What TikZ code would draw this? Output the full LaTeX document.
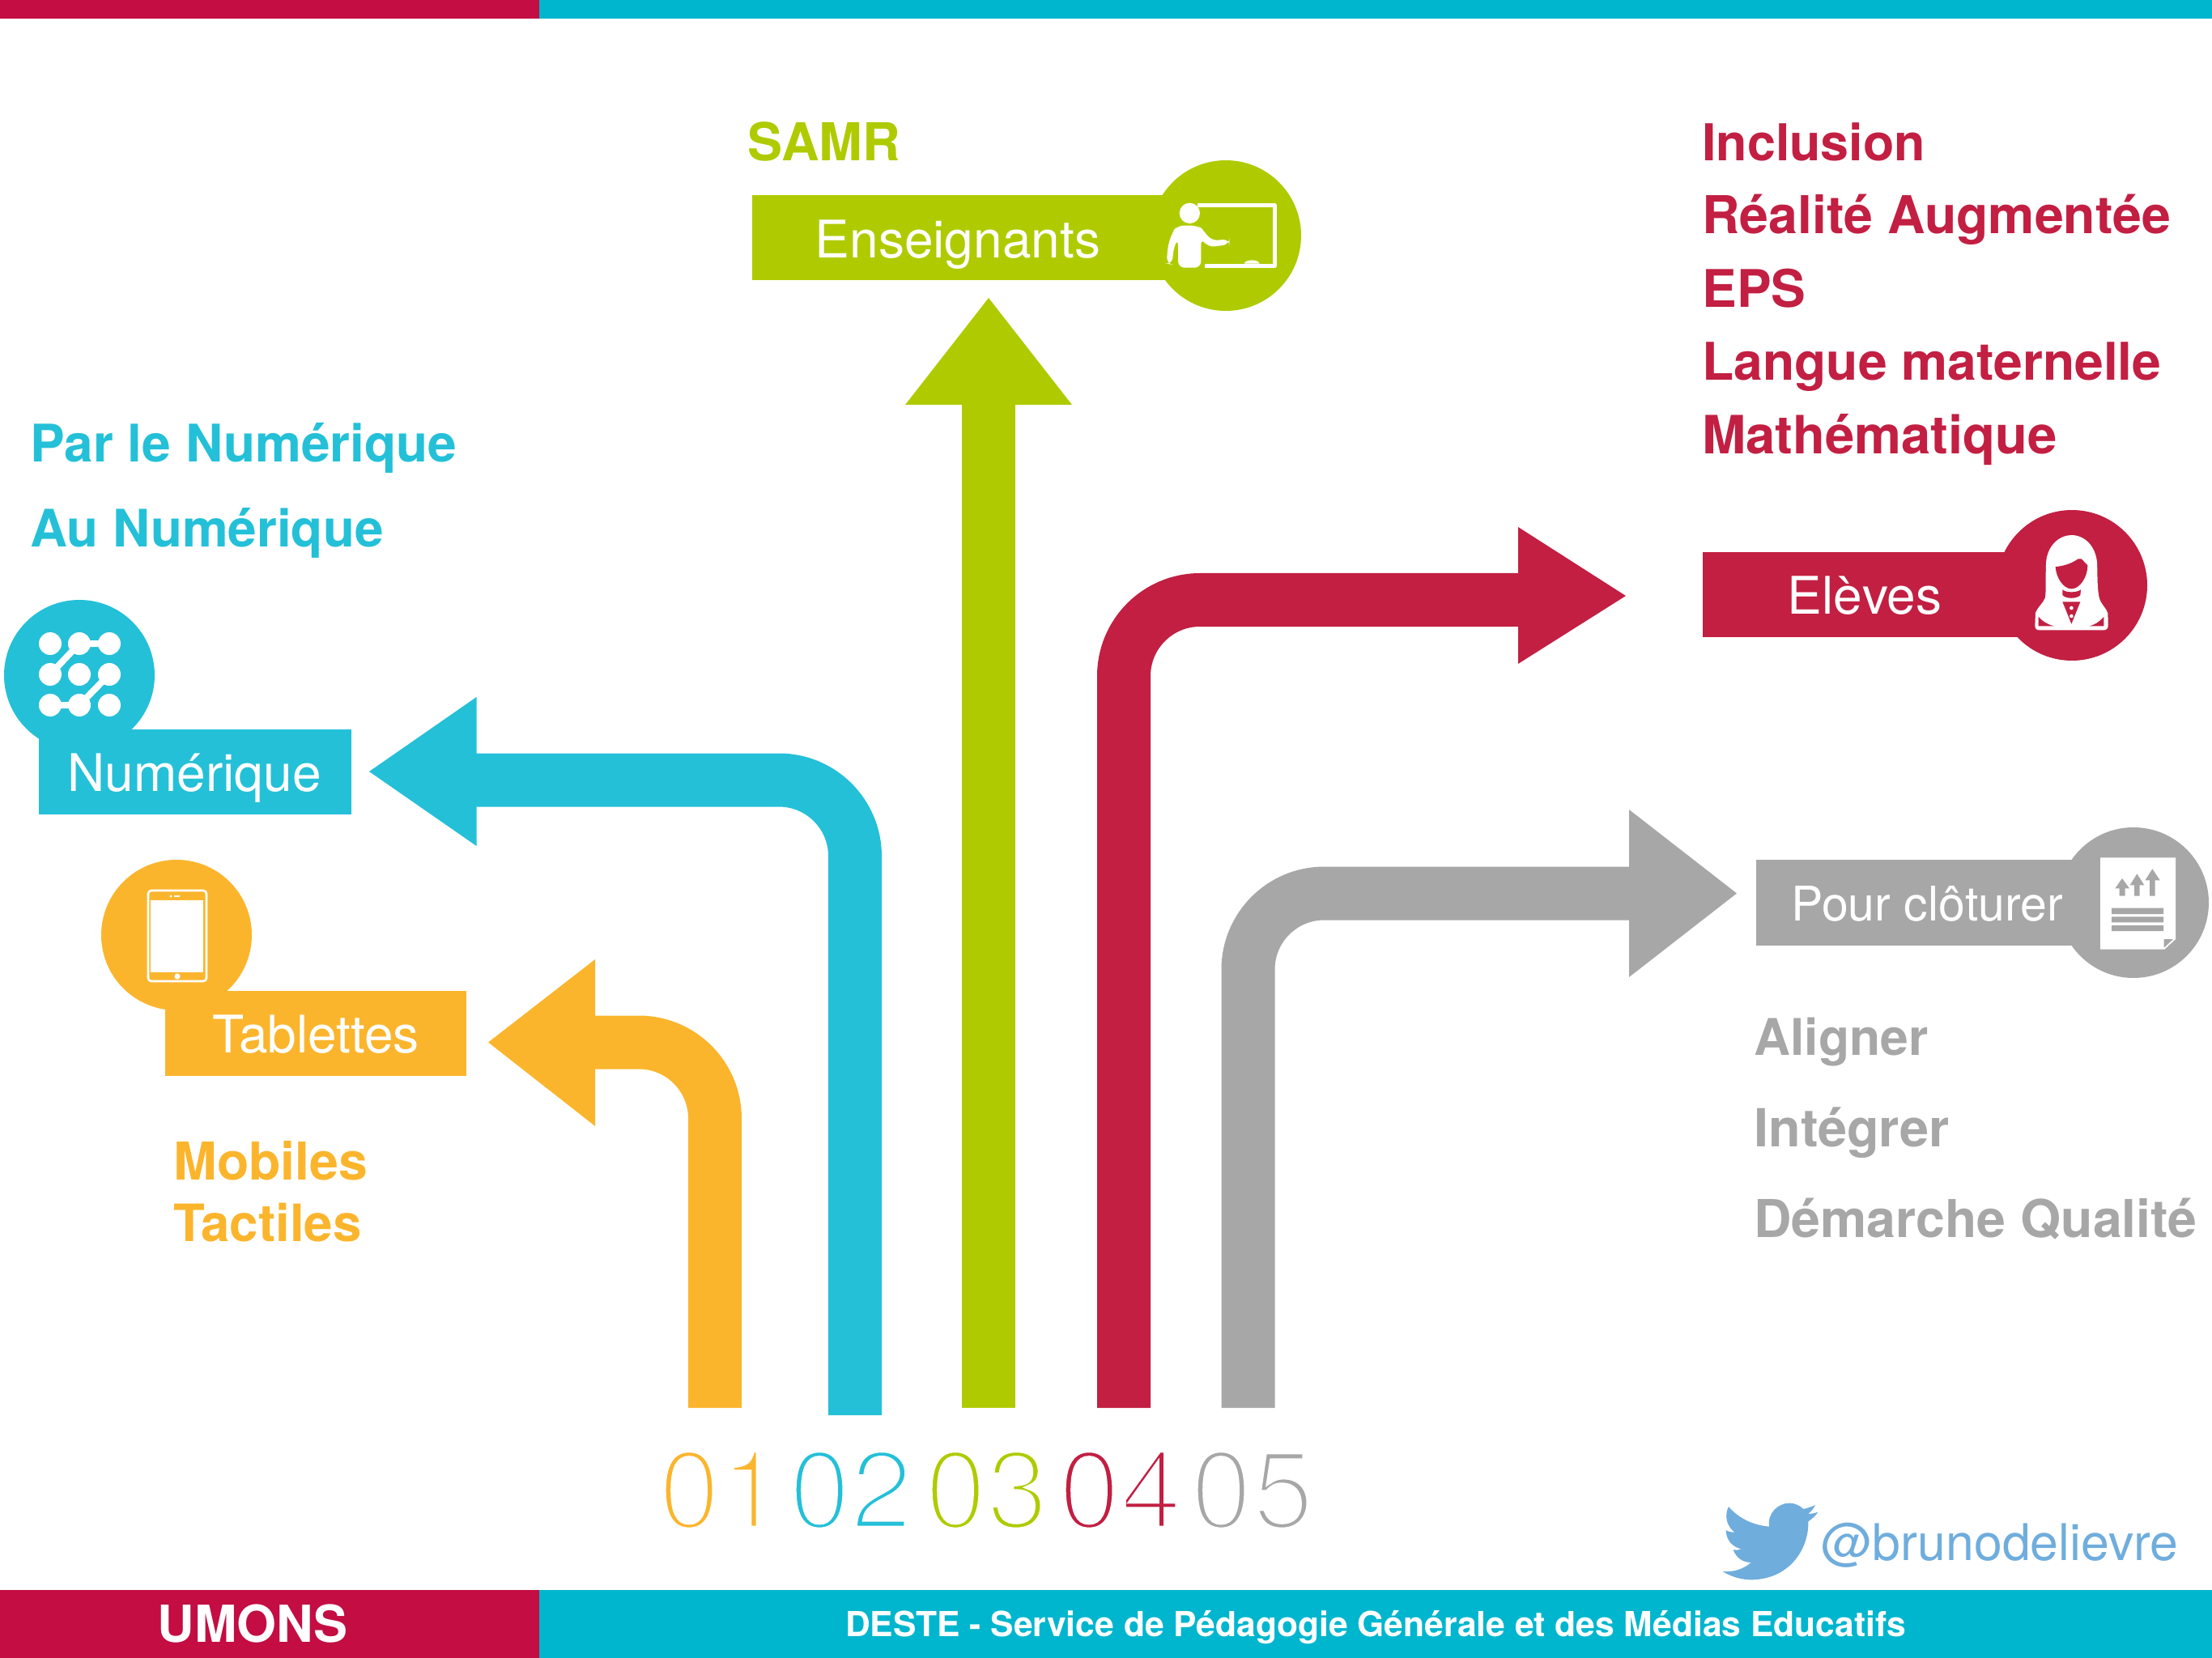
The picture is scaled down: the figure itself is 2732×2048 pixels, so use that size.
\documentclass[tikz,border=0pt]{standalone}
\usepackage{fontspec}
\setmainfont{TeX Gyre Heros}
\newfontfamily\lightf{TeX Gyre Heros}
\definecolor{cOr}{HTML}{FBB52D}
\definecolor{cCy}{HTML}{24C0D8}
\definecolor{cGr}{HTML}{AFCB00}
\definecolor{cRe}{HTML}{C21F42}
\definecolor{cGy}{HTML}{A7A7A7}
\definecolor{barRe}{HTML}{C30D43}
\definecolor{barCy}{HTML}{00B6CE}
\definecolor{cTw}{HTML}{6FADDD}
\newcommand{\fs}[1]{\fontsize{#1}{#1}\selectfont}
\newcommand{\thintext}[1]{\special{pdf:code q 2 Tr 1 1 1 RG 3.4 w}#1\special{pdf:code Q}}
\tikzset{
  x=0.5pt,y=-0.5pt,
  shaft/.style={line width=33pt,rounded corners=47pt,line join=round},
  head/.style={fill=#1,draw=none},
  disc/.style={circle,fill=#1,draw=none,inner sep=0pt,minimum size=93pt},
  boxtext/.style={text=white,font=\lightf\fs{32},inner sep=0pt,anchor=base},
  bold/.style={text=#1,font=\bfseries\fs{32},inner sep=0pt,anchor=base west},
  digits/.style={text=#1,font=\lightf\fs{68.5},inner sep=0pt,anchor=base west},
  ico/.style={fill=white,draw=none},
  zoomed/.style={shift={#1},x=0.1667pt,y=-0.1667pt},
}
\begin{document}
\begin{tikzpicture}
\useasboundingbox (0,0) rectangle (2732,2048);
% bars
\fill[barRe] (0,0) rectangle (666,23);
\fill[barCy] (666,0) rectangle (2732,23);
\fill[barRe] (0,1964) rectangle (666,2048);
\fill[barCy] (666,1964) rectangle (2732,2048);
% anchor coordinates
\coordinate (s1) at (883,1739); \coordinate (b1) at (883,1287.5); \coordinate (e1) at (735,1287.5);
\coordinate (s2) at (1056,1748); \coordinate (b2) at (1056,963.5); \coordinate (e2) at (588,963.5);
\coordinate (s3) at (1221,1739); \coordinate (e3) at (1221,500);
\coordinate (s4) at (1388,1739); \coordinate (b4) at (1388,741); \coordinate (e4) at (1875,741);
\coordinate (s5) at (1541.5,1739); \coordinate (b5) at (1541.5,1103.5); \coordinate (e5) at (2012,1103.5);
\draw[shaft,cOr] (s1) -- (b1) -- (e1);
\draw[shaft,cCy] (s2) -- (b2) -- (e2);
\draw[shaft,cGr] (s3) -- (e3);
\draw[shaft,cRe] (s4) -- (b4) -- (e4);
\draw[shaft,cGy] (s5) -- (b5) -- (e5);
\fill[head=cOr] (603,1287.5) -- (735,1185) -- (735,1391) -- cycle;
\fill[head=cCy] (456,953) -- (588.5,861) -- (588.5,1045) -- cycle;
\fill[head=cGr] (1221,368) -- (1118,500) -- (1324,500) -- cycle;
\fill[head=cRe] (2008,736) -- (1875,651) -- (1875,820) -- cycle;
\fill[head=cGy] (2145,1103.5) -- (2012,1000) -- (2012,1207) -- cycle;
% labels boxes
\node[disc=cGr] (dE) at (1514,291) {};
\fill[cGr] (929,241) rectangle (1450,346);
\node[disc=cRe] (dL) at (2559,723) {};
\fill[cRe] (2103,682) rectangle (2500,787);
\node[disc=cGy] (dP) at (2635,1115) {};
\fill[cGy] (2169,1062) rectangle (2580,1168);
\node[disc=cCy] (dN) at (98,834) {};
\fill[cCy] (48,901) rectangle (434,1006);
\node[disc=cOr] (dT) at (218,1155) {};
\fill[cOr] (204,1224) rectangle (576,1329);
\node[boxtext] (tE) at (1183,319) {Enseignants};
\node[boxtext] (tL) at (2303,758) {Elèves};
\node[boxtext,font=\lightf\fs{29.5}] (tP) at (2380,1137) {Pour clôturer};
\node[boxtext] (tN) at (240,977) {Numérique};
\node[boxtext] (tT) at (390,1300) {Tablettes};
% bold texts
\node[bold=cGr,font=\bfseries\fs{32.3}] (samr) at (923,199) {SAMR};
\node[bold=cRe,font=\bfseries\fs{31.4}] (r1) at (2102,199) {Inclusion};
\node[bold=cRe,font=\bfseries\fs{32.2}] (r2) at (2102,289) {Réalité Augmentée};
\node[bold=cRe] (r3) at (2102,380) {EPS};
\node[bold=cRe,font=\bfseries\fs{32.1}] (r4) at (2102,470) {Langue maternelle};
\node[bold=cRe,font=\bfseries\fs{32.6}] (r5) at (2102,561) {Mathématique};
\node[bold=cCy] (c1) at (37,571) {Par le Numérique};
\node[bold=cCy,font=\bfseries\fs{31.9}] (c2) at (37,676) {Au Numérique};
\node[bold=cGy,font=\bfseries\fs{31.2}] (g1) at (2166,1303) {Aligner};
\node[bold=cGy,font=\bfseries\fs{32.4}] (g2) at (2166,1416) {Intégrer};
\node[bold=cGy,font=\bfseries\fs{32.2}] (g3) at (2166,1528) {Démarche Qualité};
\node[bold=cOr,font=\bfseries\fs{32.2}] (o1) at (214,1457) {Mobiles};
\node[bold=cOr,font=\bfseries\fs{31.8}] (o2) at (214,1533) {Tactiles};
% footer text
\node[text=white,font=\bfseries\fs{31.5},inner sep=0pt,anchor=base] (umons) at (312,2028) {UMONS};
\node[text=white,font=\bfseries\fs{21.3},inner sep=0pt,anchor=base] (deste) at (1699,2021) {DESTE - Service de Pédagogie Générale et des Médias Educatifs};
\node[text=cTw,font=\lightf\fs{31.3},inner sep=0pt,anchor=base west] (tw) at (2249,1927) {@brunodelievre};
% digits
\node[digits=cOr] (d1) at (813,1888) {\thintext{01}};
\node[digits=cCy] (d2) at (974,1888) {\thintext{02}};
\node[digits=cGr] (d3) at (1142,1888) {\thintext{03}};
\node[digits=cRe] (d4) at (1307,1888) {\thintext{04}};
\node[digits=cGy] (d5) at (1470,1888) {\thintext{05}};
% numerique icon
\foreach \p in {(62,795),(98,795),(135,795),(62,833),(98,833),(135,833),(62,871),(98,871),(135,871)}
  \fill[white] \p circle (14);
\draw[white,line width=4pt] (98,795) -- (135,795) (62,833) -- (98,795) (62,871) -- (98,871) (98,871) -- (135,833);
% tablet icon
\draw[white,line width=1.3pt,rounded corners=2pt] (183,1100) rectangle (255,1212);
\fill[white] (186,1112) rectangle (251,1201);
\fill[white] (211,1107) circle (1.6) (219,1206) circle (3.6);
\draw[white,line width=1.2pt] (215,1107) -- (222,1107);
% teacher icon (zoom px of crop at 1400,180)
\begin{scope}[zoomed={(1400,180)}]
\fill[ico] (208,250) circle (38);
\draw[white,line width=2.5pt,line join=round] (237,220) -- (522,220) -- (522,444) -- (263,444);
\fill[ico] (410,437) .. controls (412,420) and (465,420) .. (467,437) -- cycle;
\fill[ico,rounded corners=4pt] (160,296) -- (240,296) -- (258,312) -- (288,352) -- (355,346) -- (355,366) -- (276,376) -- (250,342) -- (250,452) -- (165,452) -- (165,345) -- (150,372) -- (142,440) -- (122,437) -- (128,365) -- (145,320) -- cycle;
\end{scope}
% student icon
\begin{scope}[zoomed={(2440,620)}]
\fill[ico] (235,475) .. controls (225,475) and (220,468) .. (220,458) -- (222,410) .. controls (230,390) and (250,375) .. (258,355) .. controls (262,320) and (258,260) .. (262,215) .. controls (270,160) and (310,123) .. (355,123) .. controls (405,123) and (445,165) .. (450,225) .. controls (452,270) and (450,320) .. (458,355) .. controls (465,380) and (485,395) .. (490,412) -- (491,458) .. controls (491,468) and (485,475) .. (475,475) -- cycle;
\fill[cRe] (296,240) .. controls (330,238) and (360,225) .. (380,211) -- (392,211) -- (415,235) .. controls (415,280) and (385,322) .. (355,322) .. controls (325,322) and (298,280) .. (296,240) -- cycle;
\fill[cRe] (322,325) .. controls (335,337) and (375,337) .. (390,325) -- (388,345) .. controls (375,360) and (335,360) .. (322,345) -- cycle;
\fill[cRe] (322,370) -- (388,370) -- (355,452) -- cycle;
\fill[white] (355,393) circle (7) (355,423) circle (7);
\fill[cRe] (233,425) .. controls (250,445) and (270,455) .. (290,460) -- (233,460) -- cycle;
\fill[cRe] (475,425) .. controls (460,445) and (440,455) .. (422,460) -- (475,460) -- cycle;
\end{scope}
% report icon
\begin{scope}[zoomed={(2540,1010)}]
\fill[ico] (162,148) -- (441,148) -- (441,450) -- (400,488) -- (162,488) -- cycle;
\fill[cGy] (398,450) -- (432,450) -- (398,482) -- cycle;
\fill[cGy] (243,225) -- (270,262) -- (254,262) -- (254,290) -- (233,290) -- (233,262) -- (217,262) -- cycle;
\fill[cGy] (298,208) -- (325,250) -- (308,250) -- (308,290) -- (288,290) -- (288,250) -- (272,250) -- cycle;
\fill[cGy] (355,190) -- (383,232) -- (365,232) -- (365,290) -- (345,290) -- (345,232) -- (328,232) -- cycle;
\fill[cGy] (204,335) rectangle (396,357) (204,367) rectangle (396,388) (204,399) rectangle (396,420);
\end{scope}
% bird
\begin{scope}[zoomed={(2100,1830)}]
\fill[cTw] (105,93) .. controls (145,140) and (200,162) .. (255,167) .. controls (248,115) and (290,80) .. (330,80) .. controls (352,80) and (370,90) .. (382,102) .. controls (398,98) and (412,94) .. (426,87) .. controls (420,100) and (410,112) .. (399,120) .. controls (412,120) and (425,117) .. (436,113) .. controls (427,127) and (415,138) .. (400,148) .. controls (403,250) and (330,362) .. (190,364) .. controls (150,364) and (113,352) .. (83,333) .. controls (120,337) and (160,325) .. (188,300) .. controls (155,300) and (132,280) .. (122,253) .. controls (132,255) and (142,254) .. (152,250) .. controls (118,243) and (95,215) .. (95,180) .. controls (105,186) and (115,188) .. (127,188) .. controls (97,165) and (88,125) .. (105,93) -- cycle;
\end{scope}
\end{tikzpicture}
\end{document}
